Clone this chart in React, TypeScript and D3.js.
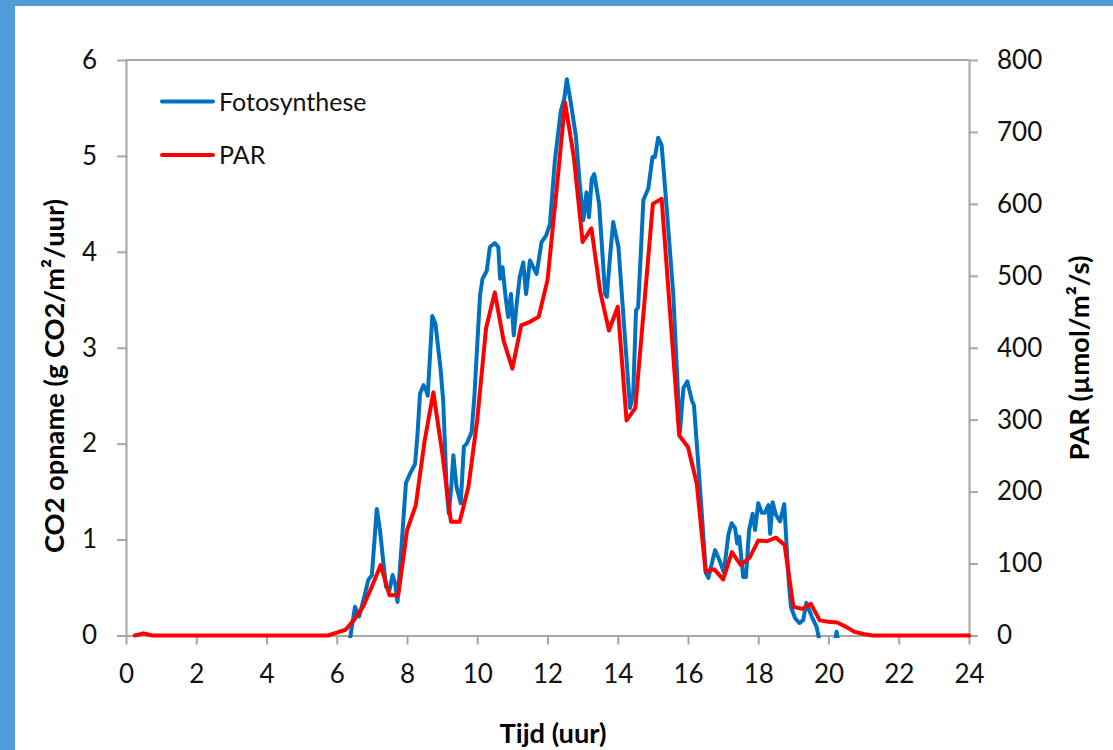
import { useEffect, useRef } from "react";
import * as d3 from "d3";

// x axis: hours of the day
const hourTicks = [0, 2, 4, 6, 8, 10, 12, 14, 16, 18, 20, 22, 24];
const co2Ticks = [0, 1, 2, 3, 4, 5, 6];
const parTicks = [0, 100, 200, 300, 400, 500, 600, 700, 800];

// Fotosynthese (g CO2/m2/uur), irregular sample times (uur)
const fotoTimes = [
  6.33, 6.4, 6.52, 6.64, 6.76, 6.9, 7.0, 7.14, 7.23, 7.4, 7.5, 7.59, 7.66, 7.73, 7.85, 7.97,
  8.09, 8.23, 8.3, 8.37, 8.47, 8.55, 8.59, 8.72, 8.81, 8.95, 9.03, 9.13, 9.19, 9.26, 9.32,
  9.41, 9.53, 9.62, 9.7, 9.84, 9.92, 9.98, 10.08, 10.15, 10.27, 10.36, 10.5, 10.6, 10.65,
  10.72, 10.8, 10.88, 10.96, 11.04, 11.12, 11.21, 11.31, 11.39, 11.5, 11.58, 11.69, 11.83,
  11.96, 12.07, 12.21, 12.38, 12.48, 12.55, 12.67, 12.81, 12.92, 13.02, 13.11, 13.18, 13.26,
  13.33, 13.47, 13.64, 13.69, 13.78, 13.87, 14.02, 14.21, 14.35, 14.44, 14.52, 14.58, 14.73,
  14.87, 14.99, 15.06, 15.15, 15.25, 15.39, 15.58, 15.77, 15.87, 15.98, 16.11, 16.17, 16.34,
  16.51, 16.58, 16.77, 16.89, 17.02, 17.15, 17.24, 17.34, 17.4, 17.46, 17.57, 17.65, 17.74,
  17.84, 17.91, 18.0, 18.1, 18.19, 18.29, 18.34, 18.41, 18.5, 18.62, 18.74, 18.86, 18.93,
  19.05, 19.17, 19.28, 19.37, 19.52, 19.66, 19.8, 20.15, 20.23, 20.32,
];
const fotoValues = [
  -0.15, 0.02, 0.3, 0.2, 0.37, 0.58, 0.63, 1.32, 1.1, 0.51, 0.47, 0.63, 0.55, 0.35, 0.96, 1.59,
  1.69, 1.79, 2.1, 2.52, 2.61, 2.55, 2.5, 3.33, 3.25, 2.8, 2.45, 1.52, 1.27, 1.55, 1.88,
  1.55, 1.38, 1.97, 2.0, 2.12, 2.5, 2.9, 3.55, 3.72, 3.8, 4.05, 4.09, 4.05, 3.72,
  3.84, 3.55, 3.32, 3.56, 3.13, 3.45, 3.74, 3.89, 3.56, 3.91, 3.85, 3.77, 4.1,
  4.17, 4.29, 4.95, 5.47, 5.6, 5.8, 5.54, 5.2, 4.7, 4.33, 4.62, 4.36, 4.76,
  4.81, 4.5, 3.56, 3.53, 3.95, 4.31, 4.05, 3.08, 2.37, 2.52, 3.39, 3.42, 4.54,
  4.66, 4.99, 4.99, 5.19, 5.11, 4.47, 3.56, 2.12, 2.58, 2.65, 2.45, 2.4, 1.55,
  0.65, 0.6, 0.89, 0.79, 0.66, 1.05, 1.17, 1.12, 0.96, 1.03, 0.61, 0.61, 1.1,
  1.27, 1.1, 1.38, 1.28, 1.28, 1.36, 1.06, 1.39, 1.26, 1.19, 1.37, 0.6, 0.3,
  0.18, 0.13, 0.16, 0.34, 0.2, 0.09, -0.15, -0.15, 0.04, -0.15,
];

// PAR (umol/m2/s), every quarter hour from 0:15 to 24:00
const parValues = [
  0, 3, 0,
  0, 0, 0, 0, 0, 0, 0, 0, 0, 0, 0, 0, 0, 0, 0, 0, 0, 0, 0, 0,
  4, 8, 22, 40, 68, 98, 56, 56, 146, 181, 270, 338, 255, 158, 158, 207,
  300, 427, 477, 410, 371, 431, 436, 443, 494, 615, 741, 665, 547, 566, 478, 424,
  457, 299, 316, 458, 600, 607, 442, 278, 262, 211, 89, 92, 78, 116, 98, 108,
  132, 131, 136, 126, 40, 37, 44, 21, 19, 18, 12, 5, 2,
  0, 0, 0, 0, 0, 0, 0, 0, 0, 0, 0, 0,
];
const parTimes = parValues.map((_, i) => (i + 1) * 0.25);

const seriesNames = ["Fotosynthese", "PAR"];
const seriesColors = ["#0070C0", "#FF0000"];

const FONT = "Lato, 'Open Sans', sans-serif";

const App = () => {
  const ref = useRef<SVGSVGElement>(null);

  useEffect(() => {
    if (!ref.current) return;
    const svg = d3.select(ref.current);
    svg.selectAll("*").remove();

    const W = 1113;
    const H = 750;
    const left = 126, right = 969, top = 60, bottom = 635.5;

    // frame: blue border + white card
    svg.append("rect").attr("width", W).attr("height", H).attr("fill", "#4E9CD8");
    svg.append("rect").attr("x", 15).attr("y", 6).attr("width", W - 15).attr("height", H - 6).attr("fill", "#fff");

    const x = d3.scaleLinear().domain([0, 24]).range([left, right]);
    const yL = d3.scaleLinear().domain([0, 6]).range([bottom, top]);
    const yR = d3.scaleLinear().domain([0, 800]).range([bottom, top]);

    const axisColor = "#a6a6a6";
    const styleAxis = (g: d3.Selection<SVGGElement, unknown, null, undefined>) => {
      g.attr("font-family", FONT).attr("font-size", 26);
      g.selectAll(".domain").attr("stroke", axisColor).attr("stroke-width", 2);
      g.selectAll(".tick line").attr("stroke", axisColor).attr("stroke-width", 2);
      g.selectAll(".tick text").attr("fill", "#111");
    };

    // top border of plot area
    svg.append("line")
      .attr("x1", left).attr("x2", right).attr("y1", top).attr("y2", top)
      .attr("stroke", axisColor).attr("stroke-width", 2);

    svg.append("g")
      .attr("transform", `translate(${left},0)`)
      .call(d3.axisLeft(yL).tickValues(co2Ticks).tickSize(9).tickSizeOuter(0).tickPadding(20).tickFormat(d3.format("d")))
      .call(styleAxis);

    svg.append("g")
      .attr("transform", `translate(${right},0)`)
      .call(d3.axisRight(yR).tickValues(parTicks).tickSize(9).tickSizeOuter(0).tickPadding(19).tickFormat(d3.format("d")))
      .call(styleAxis);

    svg.append("g")
      .attr("transform", `translate(0,${bottom})`)
      .call(d3.axisBottom(x).tickValues(hourTicks).tickSize(9).tickSizeOuter(0).tickPadding(20).tickFormat(d3.format("d")))
      .call(styleAxis);

    // clip lines to the plot area (values below 0 are hidden)
    svg.append("clipPath").attr("id", "plotClip")
      .append("rect").attr("x", left).attr("y", top - 4).attr("width", right - left + 4).attr("height", bottom - top + 6.5);

    const plot = svg.append("g").attr("clip-path", "url(#plotClip)");

    const fotoData = fotoTimes.map((t, i) => [t, fotoValues[i]] as [number, number]);
    const parData = parTimes.map((t, i) => [t, parValues[i]] as [number, number]);

    plot.append("path")
      .datum(fotoData)
      .attr("fill", "none")
      .attr("stroke", seriesColors[0])
      .attr("stroke-width", 4)
      .attr("stroke-linejoin", "round")
      .attr("stroke-linecap", "round")
      .attr("d", d3.line<[number, number]>().x((d) => x(d[0])).y((d) => yL(d[1])));

    plot.append("path")
      .datum(parData)
      .attr("fill", "none")
      .attr("stroke", seriesColors[1])
      .attr("stroke-width", 4)
      .attr("stroke-linejoin", "round")
      .attr("stroke-linecap", "round")
      .attr("d", d3.line<[number, number]>().x((d) => x(d[0])).y((d) => yR(d[1])));

    // legend
    const legend = svg.append("g").attr("transform", "translate(162,101.5)");
    seriesNames.forEach((name, i) => {
      const row = legend.append("g").attr("transform", `translate(0,${i * 53.5})`);
      row.append("line").attr("x1", 0).attr("x2", 51).attr("stroke", seriesColors[i])
        .attr("stroke-width", 4).attr("stroke-linecap", "round");
      row.append("text").attr("x", 57).attr("y", 9)
        .attr("font-family", FONT).attr("font-size", 25).attr("fill", "#111")
        .text(name);
    });

    // axis titles
    svg.append("text")
      .attr("transform", "translate(64,376) rotate(-90)")
      .attr("text-anchor", "middle")
      .attr("font-family", FONT).attr("font-weight", "bold").attr("font-size", 27)
      .attr("textLength", 354).attr("lengthAdjust", "spacingAndGlyphs")
      .text("CO2 opname (g CO2/m²/uur)");

    svg.append("text")
      .attr("transform", "translate(1089,358) rotate(-90)")
      .attr("text-anchor", "middle")
      .attr("font-family", FONT).attr("font-weight", "bold").attr("font-size", 27)
      .attr("textLength", 205).attr("lengthAdjust", "spacingAndGlyphs")
      .text("PAR (µmol/m²/s)");

    svg.append("text")
      .attr("x", 553).attr("y", 743)
      .attr("text-anchor", "middle")
      .attr("font-family", FONT).attr("font-weight", "bold").attr("font-size", 27)
      .attr("textLength", 107).attr("lengthAdjust", "spacingAndGlyphs")
      .text("Tijd (uur)");
  }, []);

  return (
    <svg
      ref={ref}
      width={1113}
      height={750}
      style={{ position: "absolute", left: 0, top: 0, display: "block" }}
    />
  );
};

export default App;
